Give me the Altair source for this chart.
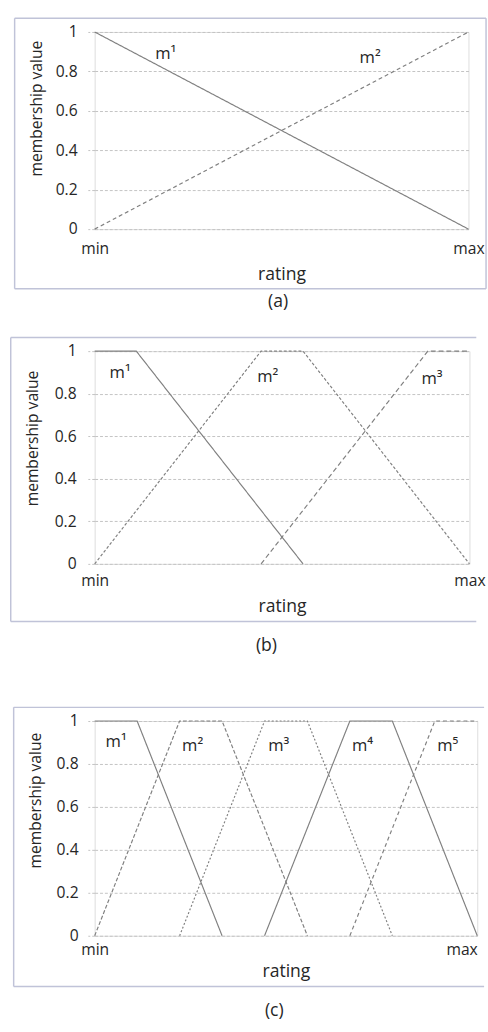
import altair as alt
import pandas as pd

FONT = "Open Sans"
LINE = "#808080"
GRID = "#c2c2c2"
FRAME = "#c4c7d8"
BORDER = "#c0c3d8"
TEXT = "#262626"

# ---------------- panel (a) ----------------
a_names = ["m¹", "m²"]
a_x = [[0, 1], [0, 1]]
a_y = [[1, 0], [0, 1]]
a_dash = [[1, 0], [4, 3]]
a_lab_x = [0.19, 0.737]
a_lab_y = [0.886, 0.866]

# ---------------- panel (b) ----------------
b_names = ["m¹", "m²", "m³"]
b_x = [[0, 0.111, 0.556], [0, 0.444, 0.556, 1], [0.444, 0.889, 1]]
b_y = [[1, 1, 0], [0, 1, 1, 0], [0, 1, 1]]
b_dash = [[1, 0], [3, 2], [5, 3]]
b_lab_x = [0.068, 0.462, 0.90]
b_lab_y = [0.896, 0.88, 0.867]

# ---------------- panel (c) ----------------
c_names = ["m¹", "m²", "m³", "m⁴", "m⁵"]
c_x = [[0, 0.111, 0.333], [0, 0.222, 0.333, 0.556], [0.222, 0.444, 0.556, 0.778],
       [0.444, 0.667, 0.778, 1], [0.667, 0.889, 1]]
c_y = [[1, 1, 0], [0, 1, 1, 0], [0, 1, 1, 0], [0, 1, 1, 0], [0, 1, 1]]
c_dash = [[1, 0], [4, 2], [2, 2], [1, 0], [4, 3]]
c_lab_x = [0.056, 0.256, 0.481, 0.70, 0.923]
c_lab_y = [0.9, 0.883, 0.883, 0.883, 0.883]

y_ticks = [0, 0.2, 0.4, 0.6, 0.8, 1]
x_ticks = [0, 1]


def panel(names, xs, ys, dashes, lx, ly, g, caption):
    rows = []
    for n, xx, yy in zip(names, xs, ys):
        for i, (a, b) in enumerate(zip(xx, yy)):
            rows.append({"series": n, "x": a, "y": b, "i": i})
    df = pd.DataFrame(rows)
    lab = pd.DataFrame({"series": names, "x": lx, "y": ly})
    one = pd.DataFrame({"k": [0]})

    xsc = alt.Scale(domain=[0, 1], nice=False, zero=False)
    ysc = alt.Scale(domain=[0, 1], nice=False)

    xaxis_kw = dict(
        values=x_ticks,
        labelExpr="datum.value == 0 ? 'min' : 'max'",
        grid=False, domain=False, ticks=False,
        labelPadding=g["xlp"], labelFontSize=16, labelFont=FONT, labelColor=TEXT,
        labelFlush=False, labelOverlap=False,
        title="rating", titleFontSize=18, titleFont=FONT, titleColor=TEXT,
        titleFontWeight="normal", titleY=g["xty"], titleBaseline="middle",
    )
    if g.get("maxright"):
        xaxis_kw["labelAlign"] = {"condition": {"test": "datum.value == 1", "value": "right"}, "value": "center"}
    xaxis = alt.Axis(**xaxis_kw)
    yaxis = alt.Axis(
        values=y_ticks, format="~g",
        grid=True, gridColor=GRID, gridDash=[3, 2], gridWidth=1,
        domain=False, tickSize=7, tickColor=GRID, tickDash=[3, 2],
        labelPadding=g["ylp"], labelFontSize=16, labelFont=FONT, labelColor=TEXT,
        title="membership value", titleFontSize=16, titleFont=FONT, titleColor=TEXT,
        titleFontWeight="normal", titleAngle=270, titleX=g["ytx"], titleY=g["yty"],
        titleBaseline="middle", titleAlign="center",
    )

    lines = alt.Chart(df).mark_line(color=LINE, strokeWidth=1.2).encode(
        x=alt.X("x:Q", scale=xsc, axis=xaxis),
        y=alt.Y("y:Q", scale=ysc, axis=yaxis),
        strokeDash=alt.StrokeDash("series:N", scale=alt.Scale(domain=names, range=dashes), legend=None),
        detail="series:N",
        order="i:Q",
    )
    labels = alt.Chart(lab).mark_text(fontSize=17, font=FONT, color=TEXT).encode(
        x=alt.X("x:Q", scale=xsc), y=alt.Y("y:Q", scale=ysc), text="series:N"
    )

    L, T, W, H = g["left"], g["top"], g["w"], g["h"]
    bx1, bx2, by1, by2 = g["border"]
    rules = []
    rules.append(alt.Chart(one).mark_rule(color=BORDER, strokeWidth=1.5).encode(
        x=alt.value(bx1), x2=alt.value(bx2), y=alt.value(by1)))
    rules.append(alt.Chart(one).mark_rule(color=BORDER, strokeWidth=1.5).encode(
        x=alt.value(bx1), x2=alt.value(bx2), y=alt.value(by2)))
    rules.append(alt.Chart(one).mark_rule(color=BORDER, strokeWidth=1.5).encode(
        x=alt.value(bx1), y=alt.value(by1), y2=alt.value(by2)))
    if g.get("rightborder"):
        rules.append(alt.Chart(one).mark_rule(color=BORDER, strokeWidth=1.5).encode(
            x=alt.value(bx2), y=alt.value(by1), y2=alt.value(by2)))

    cap = alt.Chart(one).mark_text(fontSize=18, font=FONT, color=TEXT).encode(
        x=alt.value(g["cap"][0]), y=alt.value(g["cap"][1]), text=alt.value(caption))

    bounds = alt.Chart(one).mark_rect(opacity=0).encode(
        x=alt.value(-L), x2=alt.value(487 - L),
        y=alt.value(g["bounds"][0]), y2=alt.value(g["bounds"][1]))

    return alt.layer(bounds, *rules, lines, labels, cap).properties(width=W, height=H)


ga = dict(left=86, top=19, w=383, h=202, xlp=12, xty=47, ylp=11, ytx=-59, yty=78,
          border=(-82, 401, -14, 263), cap=(188, 277), bounds=(-19, 299), rightborder=True)
gb = dict(left=96, top=344, w=384, h=218, xlp=9, xty=44, ylp=12, ytx=-64, yty=89,
          border=(-86, 391, -14, 277), cap=(176, 302), bounds=(-26, 336))
gc = dict(left=88, top=721, w=392, h=220, xlp=6, xty=37, ylp=10, ytx=-61, yty=81,
          border=(-83, 399, -14, 272), cap=(184, 297), bounds=(-41, 311), maxright=True)

pa = panel(a_names, a_x, a_y, a_dash, a_lab_x, a_lab_y, ga, "(a)")
pb = panel(b_names, b_x, b_y, b_dash, b_lab_x, b_lab_y, gb, "(b)")
pc = panel(c_names, c_x, c_y, c_dash, c_lab_x, c_lab_y, gc, "(c)")

chart = alt.vconcat(pa, pb, pc, spacing=0).resolve_scale(
    strokeDash="independent"
).properties(padding=0).configure_view(
    stroke=FRAME, strokeWidth=1
).configure(background="white")

chart.save("out.html", embed_options={"renderer": "svg", "actions": False})
